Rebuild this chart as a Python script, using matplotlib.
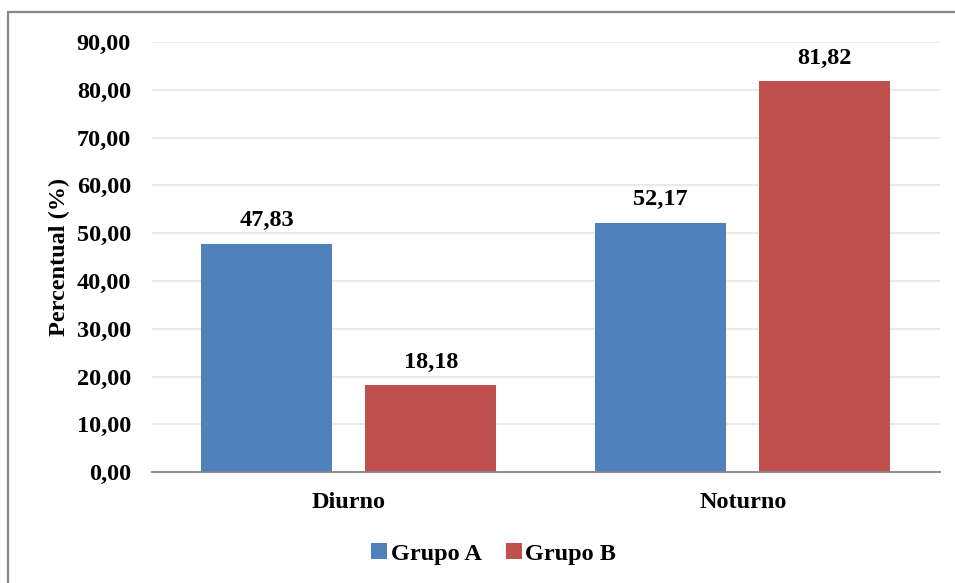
import matplotlib.pyplot as plt
from matplotlib.patches import Rectangle
import numpy as np

categories = ["Diurno", "Noturno"]
grupo_a = [47.83, 52.17]
grupo_b = [18.18, 81.82]
series_names = ["Grupo A", "Grupo B"]
colors = ["#4F81BD", "#C0504D"]
yticks = np.arange(0, 100, 10)

plt.rcParams['font.family'] = ['Liberation Serif', 'DejaVu Serif']
plt.rcParams['font.weight'] = 'bold'
FS = 17.5

fig = plt.figure(figsize=(9.55, 5.83), dpi=100)
ax = fig.add_axes([0.159, 0.190, 0.825, 0.738])

x = np.arange(len(categories))
w = 0.333
off = 0.208
for vals, name, c, d in zip([grupo_a, grupo_b], series_names, colors, [-off, off]):
    bars = ax.bar(x + d, vals, width=w, color=c, label=name, zorder=3)
    for b, v in zip(bars, vals):
        ax.annotate(f"{v:.2f}".replace('.', ','),
                    (b.get_x() + b.get_width() / 2, v),
                    xytext=(0, 9), textcoords='offset points',
                    ha='center', va='bottom', fontsize=FS, fontweight='bold')

ax.set_xlim(-0.5, 1.5)
ax.set_ylim(0, 90)
ax.set_yticks(yticks)
ax.set_yticklabels([f"{t:.2f}".replace('.', ',') for t in yticks], fontsize=FS, fontweight='bold')
ax.set_xticks(x)
ax.set_xticklabels(categories, fontsize=FS, fontweight='bold')
ax.tick_params(axis='y', length=0, pad=15)
ax.tick_params(axis='x', length=0, pad=14)
ax.yaxis.grid(True, color='#E3E3E3', linewidth=1.1, zorder=0)
for s in ['top', 'right', 'left']:
    ax.spines[s].set_visible(False)
ax.spines['bottom'].set_color('#868686')
ax.spines['bottom'].set_linewidth(1.3)
ax.spines['bottom'].set_zorder(4)
ax.set_ylabel("Percentual (%)", fontsize=FS, fontweight='bold')
ax.yaxis.set_label_coords(-0.104, 0.5)

leg = ax.legend(loc='center', bbox_to_anchor=(0.434, -0.19), ncol=2, frameon=False,
                handlelength=0.65, handleheight=0.65, handletextpad=0.15,
                columnspacing=1.0, prop={'weight': 'bold', 'size': FS})

fig.patches.append(Rectangle((8 / 955, -0.05), 1.1, 1 - 12 / 583 + 0.05,
                             transform=fig.transFigure, fill=False,
                             edgecolor='#878787', linewidth=1.6))

fig.savefig("out.png", dpi=100)
